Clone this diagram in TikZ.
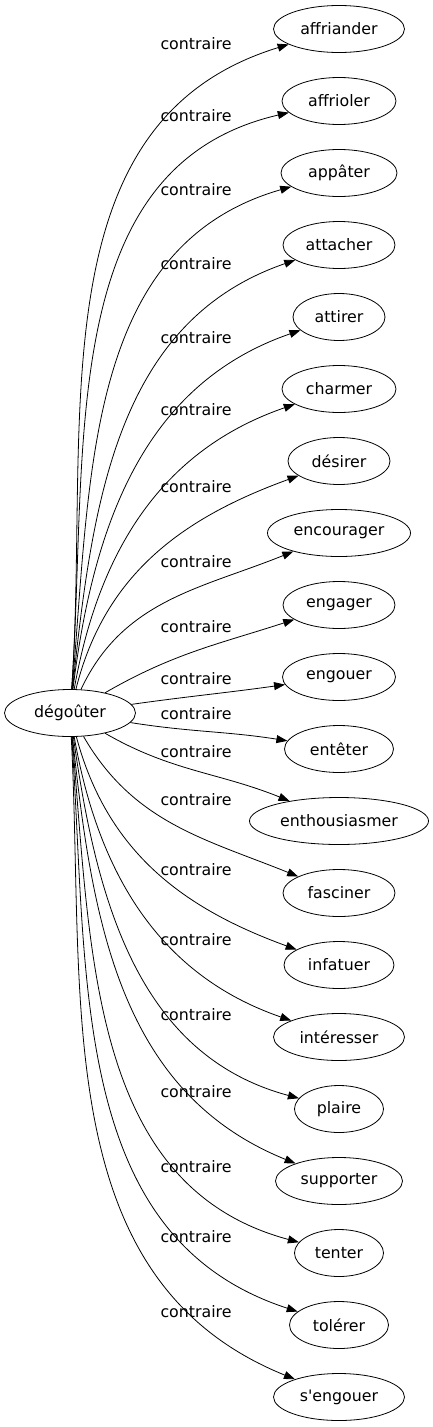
\documentclass[tikz,border=0pt]{standalone}
\usepackage{fontspec}
\setmainfont{DejaVu Sans}[Ligatures=TeXOff]
\usepackage{tikz}
\usetikzlibrary{positioning, shapes.geometric, arrows.meta}

\begin{document}
\begin{tikzpicture}[
    x=1pt, y=-1pt,
    font=\fontsize{15.8}{18}\selectfont,
    mot/.style={
        ellipse,
        draw,
        line width=0.8pt,
        minimum height=47pt,
        inner sep=1pt,
    },
    rel/.style={-{Triangle[length=11pt, width=8pt]}, line width=0.8pt},
    etiq/.style={anchor=mid, inner sep=0pt},
]

\useasboundingbox (0,0) rectangle (433,1427);

\node[mot, minimum width=131pt] (degouter)      at ( 70,  713) {dégoûter};

\node[mot, minimum width=131pt] (affriander)    at (339,   29) {affriander};
\node[mot, minimum width=114pt] (affrioler)     at (339,  101) {affrioler};
\node[mot, minimum width=116pt] (appater)       at (339,  173) {appâter};
\node[mot, minimum width=112pt] (attacher)      at (339,  245) {attacher};
\node[mot, minimum width=92pt]  (attirer)       at (339,  317) {attirer};
\node[mot, minimum width=114pt] (charmer)       at (339,  389) {charmer};
\node[mot, minimum width=102pt] (desirer)       at (339,  461) {désirer};
\node[mot, minimum width=143pt] (encourager)    at (339,  533) {encourager};
\node[mot, minimum width=112pt] (engager)       at (339,  605) {engager};
\node[mot, minimum width=113pt] (engouer)       at (339,  677) {engouer};
\node[mot, minimum width=109pt] (enteter)       at (339,  749) {entêter};
\node[mot, minimum width=179pt] (enthousiasmer) at (339,  821) {enthousiasmer};
\node[mot, minimum width=112pt] (fasciner)      at (339,  893) {fasciner};
\node[mot, minimum width=110pt] (infatuer)      at (339,  965) {infatuer};
\node[mot, minimum width=131pt] (interesser)    at (339, 1037) {intéresser};
\node[mot, minimum width=89pt]  (plaire)        at (339, 1109) {plaire};
\node[mot, minimum width=127pt] (supporter)     at (339, 1181) {supporter};
\node[mot, minimum width=89pt]  (tenter)        at (339, 1253) {tenter};
\node[mot, minimum width=99pt]  (tolerer)       at (339, 1325) {tolérer};
\node[mot, minimum width=131pt] (sengouer)      at (339, 1397) {s'engouer};

% etiquettes
\node[etiq] (c1)  at (196,   47) {contraire};
\node[etiq] (c2)  at (196,  119) {contraire};
\node[etiq] (c3)  at (196,  193) {contraire};
\node[etiq] (c4)  at (196,  267) {contraire};
\node[etiq] (c5)  at (196,  341) {contraire};
\node[etiq] (c6)  at (196,  413) {contraire};
\node[etiq] (c7)  at (196,  490) {contraire};
\node[etiq] (c8)  at (196,  565) {contraire};
\node[etiq] (c9)  at (196,  630) {contraire};
\node[etiq] (c10) at (196,  682) {contraire};
\node[etiq] (c11) at (196,  717) {contraire};
\node[etiq] (c12) at (196,  755) {contraire};
\node[etiq] (c13) at (196,  803) {contraire};
\node[etiq] (c14) at (196,  873) {contraire};
\node[etiq] (c15) at (196,  943) {contraire};
\node[etiq] (c16) at (196, 1018) {contraire};
\node[etiq] (c17) at (196, 1095) {contraire};
\node[etiq] (c18) at (196, 1170) {contraire};
\node[etiq] (c19) at (196, 1240) {contraire};
\node[etiq] (c20) at (196, 1315) {contraire};

\draw[rel] (degouter) to[out=86,  in=197] (affriander);
\draw[rel] (degouter) to[out=86,  in=193] (affrioler);
\draw[rel] (degouter) to[out=85,  in=196] (appater);
\draw[rel] (degouter) to[out=84,  in=199] (attacher);
\draw[rel] (degouter) to[out=83,  in=199] (attirer);
\draw[rel] (degouter) to[out=80,  in=199] (charmer);
\draw[rel] (degouter) to[out=76,  in=200] (desirer);
\draw[rel] (degouter) to[out=65,  in=202] (encourager);
\draw[rel] (degouter) to[out=30,  in=198] (engager);
\draw[rel] (degouter) to[out=8,   in=188] (engouer);
\draw[rel] (degouter) to[out=-9,  in=171] (enteter);
\draw[rel] (degouter) to[out=-30, in=158] (enthousiasmer);
\draw[rel] (degouter) to[out=-60, in=158] (fasciner);
\draw[rel] (degouter) to[out=-75, in=160] (infatuer);
\draw[rel] (degouter) to[out=-80, in=161] (interesser);
\draw[rel] (degouter) to[out=-82, in=165] (plaire);
\draw[rel] (degouter) to[out=-84, in=158] (supporter);
\draw[rel] (degouter) to[out=-85, in=165] (tenter);
\draw[rel] (degouter) to[out=-86, in=162] (tolerer);
\draw[rel] (degouter) to[out=-87, in=158] (sengouer);

\end{tikzpicture}
\end{document}
